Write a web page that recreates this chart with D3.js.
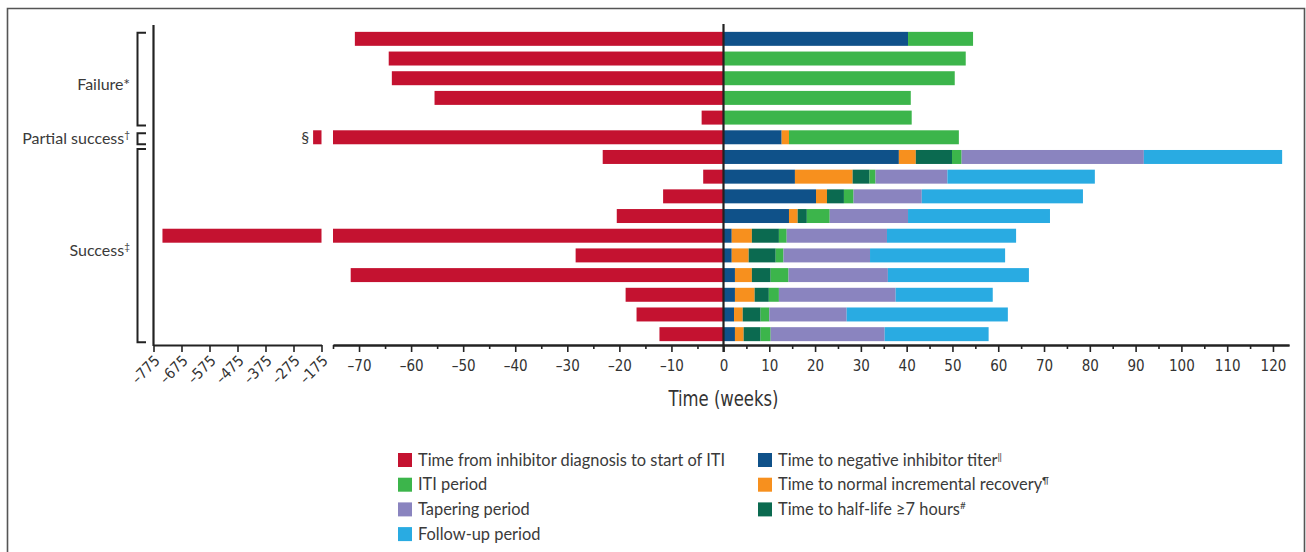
<!DOCTYPE html>
<html>
<head>
<meta charset="utf-8">
<script src="https://cdn.jsdelivr.net/npm/d3@7"></script>
<style>
  html, body { margin: 0; padding: 0; background: #fff; }
  svg { display: block; }
  .axis-txt { font-family: "Liberation Sans Narrow", "DejaVu Sans Condensed", sans-serif; font-stretch: condensed; fill: #333; }
  .lbl { font-family: Lato, "Noto Sans", sans-serif; fill: #3a3a3a; }
</style>
</head>
<body>
<div id="chart"></div>
<script>
/* ============================================================
   ITI timeline per patient — horizontal stacked bars
   Negative side: time from inhibitor diagnosis to ITI start.
   Positive side: ITI milestones, tapering and follow-up.
   ============================================================ */

/* -----------------------------------------------------------
   Data (weeks), one entry per patient row, top to bottom
----------------------------------------------------------- */
var ROWS = d3.range(16);

// time from inhibitor diagnosis to start of ITI (negative)
var preITI    = [-70.8, -64.3, -63.7, -55.5, -4.2, -205, -23.2, -3.9, -11.6, -20.5, -743, -28.4, -71.6, -18.8, -16.7, -12.3];

// durations on the positive side, stacked in this order
var titer     = [40.3, 0, 0, 0, 0, 12.7, 38.3, 15.6, 20.2, 14.3, 1.8, 1.8, 2.5, 2.5, 2.3, 2.5];
var recovery  = [0, 0, 0, 0, 0, 1.6, 3.7, 12.6, 2.4, 1.9, 4.4, 3.7, 3.7, 4.3, 1.9, 1.9];
var halfLife  = [0, 0, 0, 0, 0, 0, 7.9, 3.7, 3.7, 2.0, 5.9, 5.9, 4.1, 3.1, 3.9, 3.7];
var itiPeriod = [14.2, 52.9, 50.5, 40.9, 41.1, 37.1, 2.1, 1.3, 2.1, 5.0, 1.7, 1.7, 3.9, 2.2, 1.9, 2.2];
var tapering  = [0, 0, 0, 0, 0, 0, 39.8, 15.7, 14.9, 17.1, 21.9, 18.9, 21.7, 25.5, 16.9, 24.9];
var followUp  = [0, 0, 0, 0, 0, 0, 30.2, 32.2, 35.2, 31.0, 28.2, 29.5, 30.8, 21.2, 35.2, 22.7];

var mainNegTicks = d3.range(-70, 0, 10);
var mainPosTicks = d3.range(0, 121, 10);
var brokenTicks  = d3.range(-775, -174, 100);

var groups = [
  { name: 'Failure', mark: '*',  sup: false, from: 0, to: 4 },
  { name: 'Partial success', mark: '\u2020', sup: true, from: 5, to: 5 },
  { name: 'Success', mark: '\u2021', sup: true, from: 6, to: 15 }
];

var COLORS = {
  preITI:    '#c41230',
  titer:     '#0f5189',
  recovery:  '#f7901e',
  halfLife:  '#0b6a50',
  itiPeriod: '#3cb54b',
  tapering:  '#8a84bf',
  followUp:  '#29abe2'
};

var legendLeft = [
  { key: 'preITI',    text: 'Time from inhibitor diagnosis to start of ITI', sup: '' },
  { key: 'itiPeriod', text: 'ITI period', sup: '' },
  { key: 'tapering',  text: 'Tapering period', sup: '' },
  { key: 'followUp',  text: 'Follow-up period', sup: '' }
];
var legendRight = [
  { key: 'titer',    text: 'Time to negative inhibitor titer', sup: '\u2016' },
  { key: 'recovery', text: 'Time to normal incremental recovery', sup: '\u00b6' },
  { key: 'halfLife', text: 'Time to half-life \u22657 hours', sup: '#' }
];

/* -----------------------------------------------------------
   Layout
----------------------------------------------------------- */
var W = 1306, H = 552;
var AXIS_Y = 345;

var svg = d3.select('#chart').append('svg')
  .attr('width', W).attr('height', H);

// outer frame (open at the bottom)
svg.append('path')
  .attr('d', 'M7.5,552 V8.5 H1304.5 V552')
  .attr('fill', 'none')
  .attr('stroke', '#555')
  .attr('stroke-width', 1.6);

var y = d3.scaleBand()
  .domain(ROWS)
  .range([29, 344])
  .paddingInner(0.29)
  .paddingOuter(0.145);

var xNeg    = d3.scaleLinear().domain([-75, 0]).range([333, 723.5]);
var xPos    = d3.scaleLinear().domain([0, 123.5]).range([723.5, 1289]);
var xBroken = d3.scaleLinear().domain([-775, -175]).range([153.5, 321.5]);

var dash = function(d) { return d < 0 ? '\u2013' + Math.abs(d) : String(d); };

/* -----------------------------------------------------------
   Negative bars (with axis break beyond -75 weeks)
----------------------------------------------------------- */
var red = svg.append('g').attr('fill', COLORS.preITI);

red.selectAll('.pre')
  .data(ROWS)
  .join('rect')
  .attr('class', 'pre')
  .attr('x', function(i) { return xNeg(Math.max(preITI[i], -75)); })
  .attr('y', function(i) { return y(i); })
  .attr('width', function(i) { return xNeg(0) - xNeg(Math.max(preITI[i], -75)); })
  .attr('height', y.bandwidth());

red.selectAll('.pre-broken')
  .data(ROWS.filter(function(i) { return preITI[i] < -75; }))
  .join('rect')
  .attr('class', 'pre-broken')
  .attr('x', function(i) { return xBroken(preITI[i]); })
  .attr('y', function(i) { return y(i); })
  .attr('width', function(i) { return xBroken(-175) - xBroken(preITI[i]); })
  .attr('height', y.bandwidth());

// footnote mark next to the short broken bar
svg.append('text')
  .attr('class', 'lbl')
  .attr('x', xBroken(preITI[5]) - 4)
  .attr('y', y(5) + y.bandwidth() / 2)
  .attr('dy', '0.35em')
  .attr('text-anchor', 'end')
  .style('font-size', '16px')
  .text('\u00a7');

/* -----------------------------------------------------------
   Positive stacked bars
----------------------------------------------------------- */
var KEYS = ['titer', 'recovery', 'halfLife', 'itiPeriod', 'tapering', 'followUp'];
var SERIES = { titer: titer, recovery: recovery, halfLife: halfLife,
               itiPeriod: itiPeriod, tapering: tapering, followUp: followUp };

var table = ROWS.map(function(i) {
  var o = { row: i };
  KEYS.forEach(function(k) { o[k] = SERIES[k][i]; });
  return o;
});

var stack = d3.stack().keys(KEYS)(table);

svg.append('g').selectAll('g')
  .data(stack)
  .join('g')
  .attr('fill', function(s) { return COLORS[s.key]; })
  .selectAll('rect')
  .data(function(s) { return s.filter(function(d) { return d[1] > d[0]; }); })
  .join('rect')
  .attr('x', function(d) { return xPos(d[0]); })
  .attr('y', function(d) { return y(d.data.row); })
  .attr('width', function(d) { return xPos(d[1]) - xPos(d[0]); })
  .attr('height', y.bandwidth());

/* -----------------------------------------------------------
   Axes
----------------------------------------------------------- */
function styleAxis(g) {
  g.select('.domain').attr('stroke', '#222').attr('stroke-width', 2.2);
  g.selectAll('.tick line').attr('stroke', '#222').attr('stroke-width', 1.6);
  g.selectAll('.tick text').attr('class', 'axis-txt').attr('fill', '#333')
    .style('font-size', '15px');
}

// minor ticks first (no labels)
function minor(scale, vals) {
  svg.append('g')
    .attr('transform', 'translate(0,' + AXIS_Y + ')')
    .call(d3.axisBottom(scale).tickValues(vals).tickSize(4).tickSizeOuter(0).tickFormat(''))
    .call(styleAxis);
}
minor(xNeg, d3.range(-75, 0, 10));
minor(xPos, d3.range(5, 120, 10));

svg.append('g')
  .attr('transform', 'translate(0,' + AXIS_Y + ')')
  .call(d3.axisBottom(xNeg).tickValues(mainNegTicks).tickSize(7).tickPadding(8)
    .tickSizeOuter(0).tickFormat(dash))
  .call(styleAxis);

svg.append('g')
  .attr('transform', 'translate(0,' + AXIS_Y + ')')
  .call(d3.axisBottom(xPos).tickValues(mainPosTicks).tickSize(7).tickPadding(8)
    .tickSizeOuter(0).tickFormat(dash))
  .call(styleAxis);

var broken = svg.append('g')
  .attr('transform', 'translate(0,' + AXIS_Y + ')')
  .call(d3.axisBottom(xBroken).tickValues(brokenTicks).tickSize(7)
    .tickSizeOuter(0).tickFormat(dash))
  .call(styleAxis);

broken.selectAll('.tick text')
  .attr('x', 0).attr('y', 0).attr('dy', '0.35em')
  .attr('transform', 'translate(3,13) rotate(-45)')
  .style('text-anchor', 'end');

// vertical axis at the far left and the zero line
svg.append('line')
  .attr('x1', 153.5).attr('x2', 153.5)
  .attr('y1', 25).attr('y2', AXIS_Y + 1)
  .attr('stroke', '#222').attr('stroke-width', 2.2);

svg.append('line')
  .attr('x1', xPos(0)).attr('x2', xPos(0))
  .attr('y1', 24).attr('y2', AXIS_Y + 7)
  .attr('stroke', '#222').attr('stroke-width', 2.2);

svg.append('text')
  .attr('class', 'axis-txt')
  .attr('x', xPos(0))
  .attr('y', 406)
  .attr('text-anchor', 'middle')
  .attr('textLength', 110)
  .attr('lengthAdjust', 'spacingAndGlyphs')
  .style('font-size', '21px')
  .text('Time (weeks)');

/* -----------------------------------------------------------
   Outcome brackets
----------------------------------------------------------- */
var brk = svg.append('g').attr('fill', 'none').attr('stroke', '#222').attr('stroke-width', 2);

groups.forEach(function(g) {
  var top = y(g.from) + (g.from === g.to ? 3 : 1);
  var bot = y(g.to) + y.bandwidth() + (g.from === g.to ? 0 : 1);
  if (g.name === 'Success') top -= 2;
  brk.append('path')
    .attr('d', 'M146,' + top + ' H137.5 V' + bot + ' H146');

  var t = svg.append('text')
    .attr('class', 'lbl')
    .attr('x', 130)
    .attr('y', (top + bot) / 2 + (g.from === g.to ? 0 : 5))
    .attr('dy', '0.35em')
    .attr('text-anchor', 'end')
    .style('font-size', '16px')
    .text(g.name);
  t.append('tspan')
    .attr('baseline-shift', g.sup ? 'super' : null)
    .style('font-size', g.sup ? '10px' : '16px')
    .text(g.mark);
});

/* -----------------------------------------------------------
   Legend
----------------------------------------------------------- */
function legendColumn(items, x0) {
  items.forEach(function(it, i) {
    var yy = 460 + i * 24.7;
    svg.append('rect')
      .attr('x', x0).attr('y', yy - 7)
      .attr('width', 14).attr('height', 14)
      .attr('fill', COLORS[it.key]);
    var t = svg.append('text')
      .attr('class', 'lbl')
      .attr('x', x0 + 20).attr('y', yy)
      .attr('dy', '0.35em')
      .style('font-size', '16.4px')
      .text(it.text);
    if (it.sup) {
      t.append('tspan')
        .attr('baseline-shift', 'super')
        .style('font-size', '10px')
        .text(it.sup);
    }
  });
}
legendColumn(legendLeft, 398);
legendColumn(legendRight, 758);
</script>
</body>
</html>
